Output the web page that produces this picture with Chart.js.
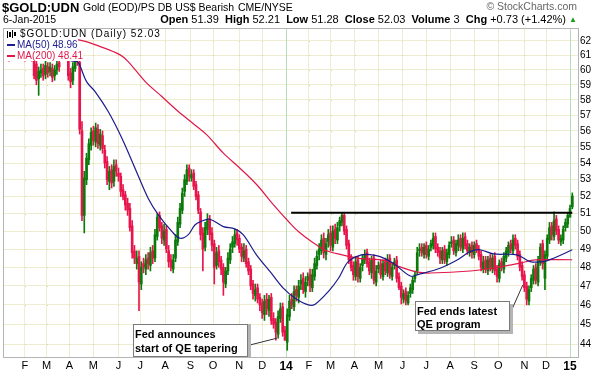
<!DOCTYPE html>
<html lang="en">
<head>
  <meta charset="UTF-8">
  <title>$GOLD:UDN</title>
  <script src="https://cdn.jsdelivr.net/npm/chart.js"></script>
  <style>
    body { margin: 0; background: #fff; }
    #wrap { position: relative; width: 593px; height: 370px; font-family: 'Liberation Sans', Arial, sans-serif; color: #000; }
    #wrap canvas { position: absolute; left: 0; top: 0; }
    .t { position: absolute; white-space: nowrap; line-height: 1; }
    .legend-row { position: absolute; background: #fff; white-space: nowrap; font-size: 10px; line-height: 11px; }
    .note { position: absolute; background: #fff; border: 1px solid #7a7a7a; font-weight: bold; font-size: 11px; padding: 0 0 0 1px; box-sizing: border-box; }
  </style>
</head>
<body>
<div id="wrap">
  <canvas id="myChart" width="593" height="370"></canvas>

  <!-- header -->
  <div class="t" style="left:2px; top:1px; font-size:13px; font-weight:bold;">$GOLD:UDN</div>
  <div class="t" style="left:83px; top:2px; font-size:10.5px;">Gold (EOD)/PS DB US$ Bearish</div>
  <div class="t" style="left:238px; top:2px; font-size:10.5px;">CME/NYSE</div>
  <div class="t" style="right:16px; top:1px; font-size:10.5px; color:#666;">&copy; StockCharts.com</div>
  <div class="t" style="left:3px; top:14px; font-size:10.5px;">6-Jan-2015</div>
  <div class="t" style="right:27px; top:14px; font-size:11px;"><b>Open</b> 51.39 &nbsp;<b>High</b> 52.21 &nbsp;<b>Low</b> 51.28 &nbsp;<b>Close</b> 52.03 &nbsp;<b>Volume</b> 3 &nbsp;<b>Chg</b> +0.73 (+1.42%)</div>
  <div class="t" style="left:569px; top:16px; font-size:8px; color:#1e9a1e;">&#9650;</div>

  <!-- legend inside the plot -->
  <div class="legend-row" style="left:4px; top:29px; width:159px; height:10px;">
    <span style="position:absolute; left:3px; top:2px; width:1px; height:7px; background:#000;"></span>
    <span style="position:absolute; left:5px; top:3px; width:2px; height:5px; background:#000;"></span>
    <span style="position:absolute; left:8px; top:1px; width:1px; height:8px; background:#000;"></span>
    <span style="position:absolute; left:10px; top:3px; width:2px; height:4px; background:#000;"></span>
    <span style="position:absolute; left:16px; top:-1px; letter-spacing:1px;">$GOLD:UDN (Daily) 52.03</span>
  </div>
  <div class="legend-row" style="left:4px; top:39px; width:74px; height:11px; color:#1c1c8c;">
    <span style="position:absolute; left:3px; top:5px; width:8px; height:2px; background:#1c1c8c;"></span>
    <span style="position:absolute; left:13px; top:0px;">MA(50) 48.96</span>
  </div>
  <div class="legend-row" style="left:4px; top:50px; width:79px; height:11px; color:#e0184a;">
    <span style="position:absolute; left:3px; top:5px; width:8px; height:2px; background:#e0184a;"></span>
    <span style="position:absolute; left:13px; top:0px;">MA(200) 48.41</span>
  </div>

  <!-- annotations -->
  <div class="note" style="left:133px; top:324px; width:115px; height:33px; line-height:14.4px; box-shadow:3px 0 0 #b4b4b4; padding-top:2px;">Fed announces<br>start of QE tapering</div>
  <div class="note" style="left:415px; top:301px; width:95px; height:30px; line-height:12.7px; box-shadow:3px 3px 0 #b4b4b4; padding-top:3px;">Fed ends latest<br>QE program</div>
</div>

<script>
  // candles: one every two sessions, first one on session 3 (sessions counted from 2-Jan-2013)
  const firstSession = 3;
  const sessionStep = 2;

  const opens = [
    61.4, 61.7, 61.3, 61.1, 61.8, 62.1, 61.8, 61.6, 61.2, 61.6,
    61.1, 61.5, 61.3, 60.7, 60.4, 59.4, 59.8, 60.1, 59.7, 60.2,
    59.9, 60.1, 59.6, 60.0, 60.5, 60.8, 61.0, 61.5, 61.0, 59.8,
    59.3, 60.1, 60.9, 60.5, 56.0, 50.9, 53.0, 54.2, 55.1, 56.0,
    55.3, 56.1, 55.1, 55.7, 54.8, 54.1, 52.9, 53.6, 52.9, 53.9,
    53.4, 53.2, 52.4, 52.1, 51.6, 51.3, 50.3, 48.9, 48.2, 48.6,
    47.1, 48.2, 47.9, 48.5, 48.1, 48.9, 48.5, 49.7, 50.9, 50.3,
    49.5, 50.1, 48.9, 48.4, 47.9, 48.5, 49.4, 50.4, 51.2, 52.3,
    52.9, 53.7, 53.1, 53.4, 52.7, 52.1, 51.1, 49.9, 49.1, 50.1,
    50.7, 49.9, 49.3, 48.1, 48.9, 48.4, 48.0, 47.1, 47.8, 48.4,
    49.1, 49.3, 49.9, 49.6, 49.1, 48.5, 49.0, 48.3, 47.9, 47.1,
    46.5, 46.9, 46.4, 46.1, 45.5, 46.3, 45.7, 46.4, 45.3, 45.1,
    44.5, 45.3, 45.9, 44.7, 44.1, 45.4, 46.3, 45.9, 46.8, 46.4,
    47.1, 47.4, 46.7, 47.3, 47.6, 46.9, 47.5, 48.1, 48.7, 48.9,
    49.6, 48.7, 49.4, 49.9, 49.1, 50.1, 49.5, 50.3, 50.5, 50.9,
    50.1, 49.3, 48.5, 48.1, 47.5, 48.4, 47.4, 48.1, 48.4, 48.8,
    48.3, 47.7, 48.5, 47.2, 47.9, 48.2, 47.5, 48.3, 47.7, 48.5,
    47.5, 48.1, 48.4, 47.5, 47.0, 46.3, 46.7, 46.1, 46.6, 46.8,
    47.4, 47.8, 48.9, 49.1, 48.7, 49.2, 48.6, 49.1, 49.2, 49.7,
    49.1, 48.9, 48.4, 49.0, 48.3, 48.7, 49.3, 49.5, 48.8, 49.2,
    49.6, 49.0, 49.7, 49.3, 48.8, 49.2, 48.7, 49.3, 49.0, 48.7,
    47.9, 48.4, 47.8, 48.5, 47.9, 48.6, 47.9, 47.4, 48.3, 47.9,
    48.5, 48.8, 49.3, 48.9, 49.6, 49.3, 48.7, 48.1, 47.6, 47.0,
    46.2, 46.9, 47.3, 48.0, 47.2, 48.3, 49.3, 47.4, 48.6, 49.5,
    50.3, 49.7, 50.7, 50.1, 49.4, 49.5, 50.2, 50.4, 50.8, 51.39
  ];
  const highs = [
    61.9, 62.0, 61.6, 62.1, 62.5, 62.4, 62.1, 61.9, 62.0, 61.9,
    61.9, 61.8, 61.6, 60.9, 60.9, 60.2, 60.4, 60.4, 60.6, 60.5,
    60.5, 60.4, 60.3, 60.7, 60.8, 61.3, 61.7, 61.8, 61.3, 60.1,
    60.5, 61.1, 61.2, 60.7, 56.6, 53.5, 54.6, 55.5, 56.2, 56.3,
    56.5, 56.4, 56.1, 56.0, 55.1, 54.4, 53.8, 53.9, 54.2, 54.2,
    53.7, 53.4, 52.7, 52.3, 51.9, 51.6, 50.6, 49.2, 48.9, 48.9,
    48.3, 48.5, 48.7, 48.8, 49.1, 49.2, 50.1, 51.0, 51.1, 50.5,
    50.4, 50.3, 49.2, 48.7, 48.7, 49.8, 50.8, 51.6, 52.5, 53.3,
    53.9, 53.9, 53.6, 53.6, 52.9, 52.3, 51.3, 50.2, 50.5, 51.0,
    50.9, 50.2, 49.5, 49.1, 49.2, 48.6, 48.2, 48.0, 48.8, 49.3,
    49.7, 50.1, 50.1, 49.8, 49.3, 49.3, 49.2, 48.5, 48.1, 47.3,
    47.1, 47.1, 46.6, 46.3, 46.5, 46.6, 46.5, 46.6, 45.6, 45.3,
    45.7, 46.1, 46.1, 44.9, 45.8, 46.5, 46.6, 47.0, 47.0, 47.3,
    47.6, 47.7, 47.5, 47.7, 47.9, 47.9, 48.5, 48.9, 49.3, 49.8,
    49.9, 49.6, 50.1, 50.3, 50.3, 50.4, 50.5, 50.8, 51.05, 51.0,
    50.3, 49.5, 48.7, 48.3, 48.6, 48.6, 48.2, 48.7, 48.95, 49.0,
    48.5, 48.6, 48.7, 48.1, 48.3, 48.4, 48.4, 48.5, 48.7, 48.7,
    48.2, 48.5, 48.6, 47.7, 47.2, 46.8, 46.9, 46.7, 47.1, 47.5,
    47.8, 49.1, 49.3, 49.3, 49.3, 49.4, 49.2, 49.5, 49.9, 49.9,
    49.3, 49.1, 49.1, 49.2, 49.0, 49.4, 49.7, 49.7, 49.5, 49.8,
    49.8, 49.9, 49.9, 49.5, 49.3, 49.4, 49.4, 49.5, 49.2, 48.9,
    48.6, 48.6, 48.6, 48.7, 48.7, 48.8, 48.1, 48.4, 48.5, 48.8,
    49.1, 49.4, 49.5, 49.8, 49.8, 49.5, 48.9, 48.3, 47.8, 47.2,
    47.0, 47.6, 48.1, 48.2, 48.6, 49.3, 49.5, 48.9, 49.8, 50.5,
    50.5, 51.1, 50.9, 50.3, 49.8, 50.3, 50.7, 51.05, 51.5, 52.21
  ];
  const lows = [
    61.1, 60.9, 60.6, 60.9, 61.5, 61.6, 61.2, 61.0, 61.0, 60.6,
    60.8, 60.9, 60.6, 59.4, 59.0, 58.3, 59.5, 59.3, 59.4, 59.5,
    59.6, 59.2, 59.3, 59.7, 59.9, 60.7, 60.8, 60.9, 59.3, 58.8,
    59.0, 59.9, 60.3, 55.8, 50.6, 49.9, 52.7, 53.9, 54.8, 55.1,
    55.0, 54.9, 54.8, 54.6, 53.7, 52.7, 52.4, 52.5, 52.6, 53.2,
    52.9, 52.0, 51.8, 51.2, 50.9, 50.0, 48.5, 48.2, 47.9, 45.7,
    46.8, 47.7, 47.6, 47.9, 47.8, 48.2, 48.3, 49.5, 50.0, 49.3,
    49.2, 48.8, 48.0, 47.8, 47.7, 48.3, 49.2, 50.2, 51.0, 52.0,
    52.7, 52.9, 52.9, 52.4, 51.8, 51.0, 49.5, 47.8, 48.9, 49.8,
    49.5, 48.9, 47.1, 47.9, 48.0, 47.6, 46.5, 46.9, 47.6, 48.2,
    48.8, 49.1, 49.2, 48.8, 48.3, 48.3, 48.0, 47.6, 46.8, 46.3,
    46.2, 46.1, 45.7, 45.3, 45.2, 45.5, 45.4, 45.0, 44.8, 44.2,
    44.3, 45.1, 44.4, 44.2, 43.7, 45.2, 45.8, 45.7, 46.2, 46.1,
    46.8, 46.6, 46.4, 47.0, 46.7, 46.7, 47.3, 47.9, 48.4, 48.7,
    48.5, 48.4, 49.1, 48.9, 48.9, 49.3, 49.3, 50.0, 50.3, 49.8,
    49.0, 48.2, 47.8, 47.3, 47.3, 47.2, 47.2, 47.8, 48.2, 48.0,
    47.6, 47.4, 47.1, 47.0, 47.7, 47.4, 47.3, 47.6, 47.5, 47.4,
    47.3, 47.9, 47.2, 46.8, 46.05, 46.1, 46.0, 46.0, 46.4, 46.6,
    47.2, 47.6, 48.6, 48.6, 48.5, 48.5, 48.4, 48.9, 49.0, 48.8,
    48.6, 48.2, 48.2, 48.2, 48.1, 48.5, 49.1, 48.7, 48.6, 48.9,
    48.9, 48.8, 49.0, 48.7, 48.6, 48.5, 48.5, 48.8, 48.4, 47.8,
    47.7, 47.7, 47.6, 47.8, 47.7, 47.6, 47.2, 47.2, 47.8, 47.7,
    48.3, 48.6, 48.8, 48.7, 49.0, 48.4, 47.8, 47.3, 46.7, 46.0,
    46.0, 46.7, 47.1, 47.1, 47.0, 48.1, 47.9, 46.8, 48.4, 49.3,
    49.5, 49.5, 49.8, 49.3, 49.2, 49.3, 50.0, 50.2, 50.8, 51.28
  ];
  const closes = [
    61.6, 61.2, 61.0, 61.8, 62.2, 61.9, 61.5, 61.3, 61.7, 61.0,
    61.6, 61.2, 60.8, 59.6, 59.3, 59.9, 60.0, 59.6, 60.3, 59.8,
    60.2, 59.5, 60.0, 60.4, 60.2, 61.0, 61.4, 61.2, 59.6, 59.2,
    60.2, 60.8, 60.6, 56.1, 50.9, 53.1, 54.3, 55.2, 55.9, 55.4,
    56.2, 55.2, 55.8, 54.9, 54.0, 53.0, 53.5, 52.8, 53.8, 53.5,
    53.2, 52.3, 52.0, 51.5, 51.2, 50.2, 48.8, 48.5, 48.5, 47.2,
    48.0, 48.0, 48.4, 48.2, 48.8, 48.5, 49.8, 50.8, 50.2, 49.6,
    50.0, 49.0, 48.3, 48.0, 48.4, 49.5, 50.5, 51.3, 52.2, 53.0,
    53.6, 53.2, 53.3, 52.6, 52.0, 51.2, 49.8, 49.0, 50.2, 50.6,
    49.8, 49.2, 48.0, 48.8, 48.3, 47.9, 47.2, 47.8, 48.5, 49.0,
    49.4, 49.8, 49.5, 49.0, 48.6, 48.9, 48.2, 47.8, 47.0, 46.6,
    46.8, 46.3, 46.0, 45.6, 46.2, 45.8, 46.3, 45.2, 45.0, 44.6,
    45.4, 45.8, 44.6, 44.2, 45.5, 46.2, 46.0, 46.7, 46.5, 47.0,
    47.3, 46.8, 47.2, 47.5, 47.0, 47.6, 48.2, 48.6, 49.0, 49.5,
    48.8, 49.3, 49.8, 49.2, 50.0, 49.6, 50.2, 50.6, 50.9, 50.0,
    49.2, 48.4, 48.0, 47.6, 48.3, 47.5, 48.0, 48.5, 48.7, 48.2,
    47.8, 48.4, 47.3, 47.8, 48.1, 47.6, 48.2, 47.8, 48.4, 47.6,
    48.0, 48.3, 47.4, 46.9, 46.4, 46.6, 46.2, 46.5, 46.9, 47.3,
    47.6, 48.8, 49.0, 48.8, 49.1, 48.7, 49.0, 49.3, 49.6, 49.0,
    48.8, 48.5, 48.9, 48.4, 48.8, 49.2, 49.4, 48.9, 49.3, 49.5,
    49.1, 49.6, 49.2, 48.9, 49.1, 48.8, 49.2, 49.0, 48.6, 48.0,
    48.3, 47.9, 48.4, 48.0, 48.5, 47.8, 47.5, 48.2, 48.0, 48.6,
    48.9, 49.2, 49.0, 49.5, 49.2, 48.6, 48.0, 47.5, 46.9, 46.3,
    46.8, 47.4, 47.9, 47.3, 48.4, 49.1, 48.2, 48.7, 49.6, 50.2,
    49.8, 50.6, 50.0, 49.5, 49.6, 50.1, 50.5, 50.9, 51.3, 52.03
  ];

  // moving averages (session, value)
  const ma50Sessions = [5, 40, 63, 67.5, 75, 82.5, 94, 106, 117.5, 129, 138, 150, 157, 164, 170, 175, 183, 195, 205, 212.5, 224, 236, 247.5, 258, 269.5, 275.5, 287, 296, 304.5, 316, 325, 332.5, 344, 359, 367.5, 385, 400, 411.5, 420, 432, 452.5, 464, 475.5, 484.5, 501];
  const ma50Values = [61.5, 61.0, 60.6, 60.53, 59.21, 58.55, 57.24, 55.54, 53.69, 51.90, 50.93, 49.97, 49.60, 49.79, 50.35, 50.54, 50.68, 50.26, 50.13, 49.79, 48.68, 47.76, 46.88, 46.35, 46.0, 46.04, 46.70, 47.41, 48.31, 48.68, 48.68, 48.58, 48.22, 47.53, 47.64, 47.95, 48.40, 48.86, 48.96, 48.73, 48.68, 48.31, 48.31, 48.49, 48.96];
  const ma200Sessions = [3, 35, 68, 87, 104.5, 111.5, 126.5, 141, 155.5, 170, 180.5, 195, 209.5, 224.5, 239, 253.5, 261, 272.5, 284, 299, 313.5, 337, 350, 364, 376.5, 411.5, 437.5, 455.5, 468.5, 501];
  const ma200Values = [62.5, 62.3, 62.07, 61.60, 61.03, 60.57, 59.21, 58.22, 57.24, 56.38, 55.75, 54.61, 53.69, 52.68, 51.51, 50.45, 49.97, 49.41, 48.95, 48.68, 48.49, 48.36, 48.02, 47.75, 47.69, 47.80, 48.02, 48.23, 48.40, 48.41];

  // resistance line drawn on the chart
  const resistanceSessions = [254.4, 501];
  const resistanceLevel = 51.05;

  // x axis: first session of each month, with its label
  const monthSessions = [21, 40, 60, 81, 103, 122, 144, 166, 186, 209, 229, 250, 270, 289, 310, 331, 352, 373, 394, 415, 436, 459, 478, 499];
  const monthLabels = ['F', 'M', 'A', 'M', 'J', 'J', 'A', 'S', 'O', 'N', 'D', '14', 'F', 'M', 'A', 'M', 'J', 'J', 'A', 'S', 'O', 'N', 'D', '15'];
  const yearLabels = ['14', '15'];

  // y axis tick labels
  const priceTicks = [44, 45, 46, 47, 48, 49, 50, 51, 52, 53, 54, 55, 56, 57, 58, 59, 60, 61, 62];

  // annotation anchors: [session, price] for box side and arrow tip
  const noteTaper = { from: [216, 43.93], to: [241.8, 44.30] };
  const noteQE = { from: [445.9, 45.48], to: [457.6, 47.05] };

  const upColor = '#0b7a0b';
  const downColor = '#e8154c';

  const sessions = closes.map((c, i) => firstSession + i * sessionStep);
  const candleColors = closes.map((c, i) => c >= opens[i] ? upColor : downColor);
  const wickData = sessions.map((s, i) => ({ x: s, y: [lows[i], highs[i]] }));
  const bodyData = sessions.map((s, i) => ({ x: s, y: [opens[i], closes[i]] }));
  const ma50Data = ma50Sessions.map((s, i) => ({ x: s, y: ma50Values[i] }));
  const ma200Data = ma200Sessions.map((s, i) => ({ x: s, y: ma200Values[i] }));
  const resistanceData = resistanceSessions.map(s => ({ x: s, y: resistanceLevel }));

  const isYearTick = v => yearLabels.includes(monthLabels[monthSessions.indexOf(v)]);

  // frame, year separators, grid dots and annotation pointers
  const extras = {
    id: 'extras',
    beforeDatasetsDraw(chart) {
      const { ctx, chartArea: a, scales } = chart;
      ctx.save();
      // dots where gridlines cross
      ctx.fillStyle = '#d6d4b0';
      monthSessions.forEach(s => {
        const x = Math.round(scales.x.getPixelForValue(s));
        priceTicks.forEach(p => {
          const y = Math.round(scales.y.getPixelForValue(p));
          ctx.fillRect(x, y, 1, 1);
        });
      });
      // year separators
      ctx.strokeStyle = '#b8dcb8';
      ctx.lineWidth = 1;
      monthSessions.forEach(s => {
        if (isYearTick(s)) {
          const x = Math.round(scales.x.getPixelForValue(s)) + 0.5;
          ctx.beginPath();
          ctx.moveTo(x, a.top);
          ctx.lineTo(x, a.bottom);
          ctx.stroke();
        }
      });
      ctx.restore();
    },
    afterDatasetsDraw(chart) {
      const { ctx, chartArea: a, scales } = chart;
      ctx.save();
      ctx.strokeStyle = '#333';
      ctx.lineWidth = 1;
      [noteTaper, noteQE].forEach(n => {
        ctx.beginPath();
        ctx.moveTo(scales.x.getPixelForValue(n.from[0]), scales.y.getPixelForValue(n.from[1]));
        ctx.lineTo(scales.x.getPixelForValue(n.to[0]), scales.y.getPixelForValue(n.to[1]));
        ctx.stroke();
      });
      ctx.strokeStyle = '#b4b4b4';
      ctx.strokeRect(a.left - 0.5, a.top - 0.5, a.right - a.left + 1, a.bottom - a.top + 1);
      ctx.restore();
    }
  };

  new Chart(document.getElementById('myChart'), {
    type: 'bar',
    data: {
      datasets: [
        {
          label: 'wicks',
          data: wickData,
          backgroundColor: candleColors,
          barThickness: 1,
          grouped: false,
          order: 4
        },
        {
          label: 'bodies',
          data: bodyData,
          backgroundColor: candleColors,
          barThickness: 2,
          minBarLength: 1,
          grouped: false,
          order: 3
        },
        {
          type: 'line',
          label: 'MA(200)',
          data: ma200Data,
          borderColor: '#e0184a',
          borderWidth: 1.2,
          pointRadius: 0,
          tension: 0.35,
          order: 2
        },
        {
          type: 'line',
          label: 'MA(50)',
          data: ma50Data,
          borderColor: '#1c1c8c',
          borderWidth: 1.2,
          pointRadius: 0,
          tension: 0.35,
          order: 1
        },
        {
          type: 'line',
          label: 'resistance',
          data: resistanceData,
          borderColor: '#000',
          borderWidth: 2,
          pointRadius: 0,
          order: 0
        }
      ]
    },
    options: {
      responsive: false,
      animation: false,
      devicePixelRatio: 1,
      layout: { padding: { left: 4, top: 29, right: 0, bottom: 0 } },
      plugins: {
        legend: { display: false },
        tooltip: { enabled: false }
      },
      scales: {
        x: {
          type: 'linear',
          offset: false,
          min: 2.6,
          max: 506,
          afterBuildTicks: scale => { scale.ticks = monthSessions.map(v => ({ value: v })); },
          afterFit: scale => { scale.height = 13; },
          grid: {
            offset: false,
            drawTicks: false,
            color: c => (c.tick && isYearTick(c.tick.value)) ? 'rgba(0,0,0,0)' : '#efedcf'
          },
          border: { display: false },
          ticks: {
            autoSkip: false,
            maxRotation: 0,
            padding: 2,
            color: '#000',
            font: c => {
              const lbl = monthLabels[c.index];
              return yearLabels.includes(lbl)
                ? { family: "'Liberation Sans', Arial, sans-serif", size: 12, weight: 'bold' }
                : { family: "'Liberation Sans', Arial, sans-serif", size: 11 };
            },
            callback: (v, i) => monthLabels[i]
          }
        },
        y: {
          type: 'logarithmic',
          position: 'right',
          min: 43.37,
          max: 62.84,
          afterBuildTicks: scale => { scale.ticks = priceTicks.map(v => ({ value: v })); },
          afterFit: scale => { scale.width = 15; },
          grid: { drawTicks: false, color: '#efedcf' },
          border: { display: false },
          ticks: {
            autoSkip: false,
            padding: 2,
            color: '#000',
            font: { family: "'Liberation Sans', Arial, sans-serif", size: 10 },
            callback: v => String(v)
          }
        }
      }
    },
    plugins: [extras]
  });
</script>
</body>
</html>
